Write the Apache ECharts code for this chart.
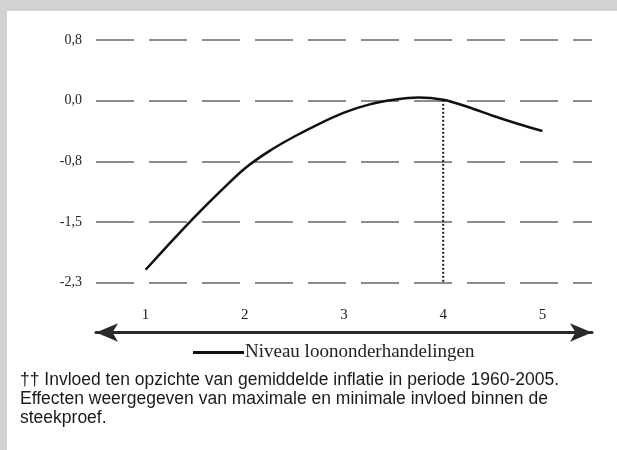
<!DOCTYPE html>
<html>
<head>
<meta charset="utf-8">
<script src="https://cdn.jsdelivr.net/npm/echarts@6/dist/echarts.min.js"></script>
<style>
  html, body { margin: 0; padding: 0; width: 617px; height: 450px; background: #d1d2d4; overflow: hidden; }
  #chart { position: absolute; left: 7px; top: 11px; width: 610px; height: 439px; background: #ffffff; }
</style>
</head>
<body>
<div id="chart"></div>
<script>
// Data
const xCategories = ['1', '2', '3', '4', '5'];
const curveX = [1, 1.25, 1.5, 1.75, 2, 2.25, 2.5, 2.75, 3, 3.25, 3.5, 3.75, 4, 4.25, 4.5, 4.75, 5];
const curveY = [-2.12, -1.78, -1.45, -1.14, -0.85, -0.63, -0.45, -0.29, -0.15, -0.05, 0.01, 0.04, 0.01, -0.08, -0.19, -0.29, -0.38];
const markerX = 4;
const markerTopY = 0.01;
const yTickLabels = ['-2,3', '-1,5', '-0,8', '0,0', '0,8'];
const yMin = -2.28;
const yStep = 0.76;
const yMax = 0.76;
const seriesName = 'Niveau loononderhandelingen';
const footnoteLines = [
  '\u2020\u2020 Invloed ten opzichte van gemiddelde inflatie in periode 1960-2005.',
  'Effecten weergegeven van maximale en minimale invloed binnen de',
  'steekproef.'
];

const curveData = curveX.map((x, i) => [x, curveY[i]]);
const markerData = [[markerX, markerTopY], [markerX, yMin]];

const chart = echarts.init(document.getElementById('chart'), null, { renderer: 'canvas' });
const serif = '"Liberation Serif", "DejaVu Serif", serif';
chart.setOption({
  animation: false,
  backgroundColor: '#ffffff',
  grid: { left: 89, right: 25, top: 29, bottom: 167.5 },
  xAxis: [
    { type: 'value', min: 0.5, max: 5.5, show: false },
    {
      type: 'category', data: xCategories, boundaryGap: true, position: 'bottom', offset: 50,
      axisLine: { show: true, symbol: ['arrow', 'arrow'], symbolSize: [14, 22],
        lineStyle: { color: '#2a2a2a', width: 3 } },
      axisTick: { show: false },
      axisLabel: { inside: true, margin: 10, fontFamily: serif, fontSize: 15, color: '#222' },
      splitLine: { show: false }
    }
  ],
  yAxis: {
    type: 'value', min: yMin, max: yMax, interval: yStep,
    axisLine: { show: false }, axisTick: { show: false },
    axisLabel: {
      margin: 14, fontFamily: serif, fontSize: 14, color: '#222',
      formatter: v => yTickLabels[Math.round((v - yMin) / yStep)]
    },
    splitLine: { show: true, lineStyle: { color: '#8c8c8c', width: 2, type: [38, 15] } }
  },
  legend: {
    left: 181, top: 327, data: [seriesName], icon: 'rect', itemWidth: 51, itemHeight: 3,
    textStyle: { fontFamily: serif, fontSize: 19, color: '#222', padding: [0, 0, 0, -4] }
  },
  series: [
    {
      name: seriesName, type: 'line', xAxisIndex: 0, data: curveData, smooth: 0.3,
      showSymbol: false, lineStyle: { color: '#111', width: 2.5 }, itemStyle: { color: '#111' }, z: 3
    },
    {
      name: 'marker', type: 'line', xAxisIndex: 0, data: markerData, showSymbol: false,
      lineStyle: { color: '#222', width: 2, type: [2, 2] }, z: 2
    }
  ],
  graphic: [{
    type: 'text', left: 13, top: 360,
    style: {
      text: footnoteLines.join('\n'),
      font: '17.5px "Liberation Sans", Arial, sans-serif',
      fill: '#1a1a1a', lineHeight: 19
    }
  }]
});
</script>
</body>
</html>
